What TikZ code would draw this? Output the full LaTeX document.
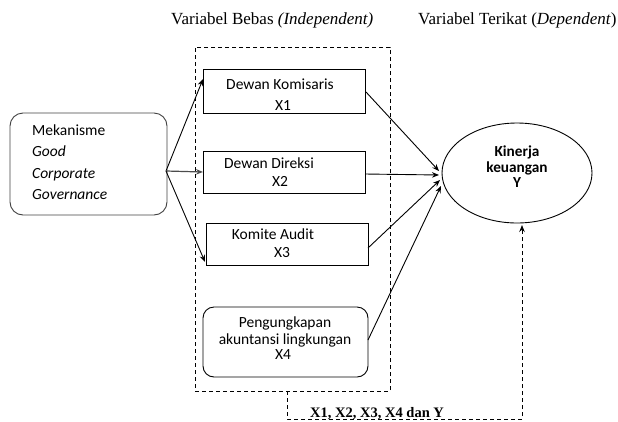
\documentclass[tikz,border=0pt]{standalone}
\usepackage{fontspec}
\setmainfont{Liberation Serif}
\setsansfont{Carlito}
\usetikzlibrary{arrows.meta,shapes.geometric}
\begin{document}
\begin{tikzpicture}[x=1pt,y=-1pt,
  boxline/.style={draw=black,line width=0.9pt},
  varbox/.style={boxline,rectangle,inner sep=0pt},
  roundbox/.style={boxline,rectangle,inner sep=0pt},
  lbl/.style={anchor=base,inner sep=0pt,font=\sffamily\fontsize{15.5}{18}\selectfont},
  lblw/.style={anchor=base west,inner sep=0pt,font=\sffamily\fontsize{15.5}{18}\selectfont},
  ttl/.style={anchor=base west,inner sep=0pt,font=\fontsize{17}{20}\selectfont},
  arr/.style={-{Stealth[length=7pt,width=5.5pt]},line width=0.9pt},
  dashline/.style={line width=0.9pt,dash pattern=on 4pt off 3pt}
]
\useasboundingbox (0,0) rectangle (618,421);

% titles
\node[ttl] (t1) at (171,24) {Variabel Bebas \textit{(Independent)}};
\node[ttl] (t2) at (418,24) {Variabel Terikat (\textit{Dependent})};

% dashed frame
\node[draw,dashline,rectangle,inner sep=0pt,minimum width=195pt,minimum height=344pt] (frame) at (292.5,219) {};

% boxes
\node[roundbox,rounded corners=13pt,draw=black!75,minimum width=157pt,minimum height=102pt] (mek) at (88.5,164) {};
\node[varbox,minimum width=162pt,minimum height=44pt] (dk) at (284,91) {};
\node[varbox,minimum width=162pt,minimum height=42pt] (dd) at (284,172) {};
\node[varbox,minimum width=162pt,minimum height=42pt] (ka) at (287,244) {};
\node[roundbox,rounded corners=11pt,minimum width=165pt,minimum height=70pt] (pa) at (285.5,342) {};
\node[boxline,ellipse,inner sep=0pt,minimum width=150pt,minimum height=100pt] (kin) at (517,173) {};

% texts
\node[lblw] (m1) at (32,135) {Mekanisme};
\node[lblw] (m2) at (32,156) {\itshape Good};
\node[lblw] (m3) at (32,178) {\itshape Corporate};
\node[lblw] (m4) at (32,199) {\itshape Governance};

\node[lbl] (dk1) at (280,89.5) {Dewan Komisaris};
\node[lbl] (dk2) at (283,110) {X1};
\node[lbl] (dd1) at (269,168) {Dewan Direksi};
\node[lbl] (dd2) at (280,186) {X2};
\node[lbl] (ka1) at (273,239) {Komite Audit};
\node[lbl] (ka2) at (282,257) {X3};
\node[lbl] (pa1) at (285,327) {Pengungkapan};
\node[lbl] (pa2) at (285,344) {akuntansi lingkungan};
\node[lbl] (pa3) at (283,359.5) {X4};

\node[lbl,font=\sffamily\bfseries\fontsize{15.3}{18}\selectfont] (k1) at (517,156) {Kinerja};
\node[lbl,font=\sffamily\bfseries\fontsize{15.3}{18}\selectfont] (k2) at (517,172) {keuangan};
\node[lbl,font=\sffamily\bfseries\fontsize{15.3}{18}\selectfont] (k3) at (517,187) {Y};

\node[anchor=base west,inner sep=0pt,font=\bfseries\fontsize{14.5}{17}\selectfont] (bt) at (310,417) {X1, X2, X3, X4 dan Y};

% connector points
\coordinate (mout) at (166,171);
\coordinate (dkin) at (203,79);
\coordinate (ddin) at (203,172);
\coordinate (kain) at (205,262);
\coordinate (dkout) at (366,92);
\coordinate (ddout) at (365,174);
\coordinate (kaout) at (368,248);
\coordinate (paout) at (368,340);
\coordinate (y1) at (439,171);
\coordinate (y2) at (439,175);
\coordinate (y3) at (440,180);
\coordinate (y4) at (441,186);
\coordinate (f0) at (287,391);
\coordinate (f1) at (287,419);
\coordinate (f2) at (522,419);
\coordinate (f3) at (522,225);

% connectors
\draw[arr] (mout) -- (dkin);
\draw[arr,draw=black!70,line width=1.2pt] (mout) -- (ddin);
\draw[arr] (mout) -- (kain);
\draw[arr] (dkout) -- (y1);
\draw[arr] (ddout) -- (y2);
\draw[arr] (kaout) -- (y3);
\draw[arr] (paout) -- (y4);
\draw[dashline,-{Stealth[length=7pt,width=5.5pt]}] (f0) -- (f1) -- (f2) -- (f3);
\end{tikzpicture}
\end{document}
